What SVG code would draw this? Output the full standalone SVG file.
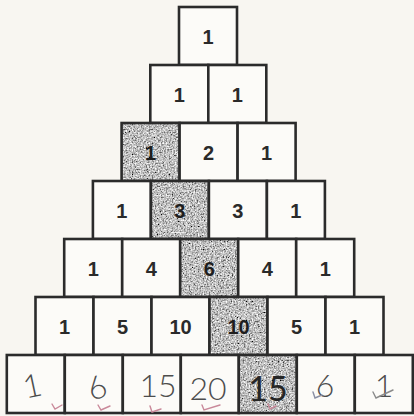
<svg xmlns="http://www.w3.org/2000/svg" width="414" height="416" viewBox="0 0 414 416">
<defs>
<filter id="grain" x="0" y="0" width="100%" height="100%">
<feTurbulence type="fractalNoise" baseFrequency="0.65" numOctaves="3" seed="4" result="n"/>
<feColorMatrix in="n" type="matrix" values="1.6 0 0 0 -0.28  1.6 0 0 0 -0.28  1.6 0 0 0 -0.28  0 0 0 0 1" result="g"/>
<feComposite in="g" in2="SourceGraphic" operator="in"/>
</filter>
<style>
.cell{fill:#fcfbf8;stroke:#2b2b2b;stroke-width:2.6}
.shade{fill:#999;filter:url(#grain)}
.edge{fill:none;stroke:#2b2b2b;stroke-width:2.6}
.num{font-family:"Liberation Sans",Arial,sans-serif;font-weight:bold;font-size:20px;fill:#2a2a2a;text-anchor:middle}
.dark{fill:#1e1e1e}
.hand{font-family:"Lato","Open Sans",sans-serif;font-weight:300;font-size:32px;fill:#4d4d4d;text-anchor:middle}
.chk{fill:none;stroke:#c9899a;stroke-width:1.4;stroke-linecap:round}
</style>
</defs>
<rect width="414" height="416" fill="#f8f6f1"/>

<g id="row0">
<g id="n0_0"><rect class="cell" x="179" y="7" width="58" height="58"/><text class="num" x="208" y="44">1</text></g>
</g>
<g id="row1">
<g id="n1_0"><rect class="cell" x="150.3" y="65" width="58" height="58"/><text class="num" x="179.3" y="102">1</text></g>
<g id="n1_1"><rect class="cell" x="208.3" y="65" width="58" height="58"/><text class="num" x="237.3" y="102">1</text></g>
</g>
<g id="row2">
<g id="n2_0"><rect class="shade" x="121.6" y="123" width="58" height="58"/><rect class="edge" x="121.6" y="123" width="58" height="58"/><text class="num dark" x="150.6" y="160">1</text></g>
<g id="n2_1"><rect class="cell" x="179.6" y="123" width="58" height="58"/><text class="num" x="208.6" y="160">2</text></g>
<g id="n2_2"><rect class="cell" x="237.6" y="123" width="58" height="58"/><text class="num" x="266.6" y="160">1</text></g>
</g>
<g id="row3">
<g id="n3_0"><rect class="cell" x="92.9" y="181" width="58" height="58"/><text class="num" x="121.9" y="218">1</text></g>
<g id="n3_1"><rect class="shade" x="150.9" y="181" width="58" height="58"/><rect class="edge" x="150.9" y="181" width="58" height="58"/><text class="num dark" x="179.9" y="218">3</text></g>
<g id="n3_2"><rect class="cell" x="208.9" y="181" width="58" height="58"/><text class="num" x="237.9" y="218">3</text></g>
<g id="n3_3"><rect class="cell" x="266.9" y="181" width="58" height="58"/><text class="num" x="295.9" y="218">1</text></g>
</g>
<g id="row4">
<g id="n4_0"><rect class="cell" x="64.2" y="239" width="58" height="58"/><text class="num" x="93.2" y="276">1</text></g>
<g id="n4_1"><rect class="cell" x="122.2" y="239" width="58" height="58"/><text class="num" x="151.2" y="276">4</text></g>
<g id="n4_2"><rect class="shade" x="180.2" y="239" width="58" height="58"/><rect class="edge" x="180.2" y="239" width="58" height="58"/><text class="num dark" x="209.2" y="276">6</text></g>
<g id="n4_3"><rect class="cell" x="238.2" y="239" width="58" height="58"/><text class="num" x="267.2" y="276">4</text></g>
<g id="n4_4"><rect class="cell" x="296.2" y="239" width="58" height="58"/><text class="num" x="325.2" y="276">1</text></g>
</g>
<g id="row5">
<g id="n5_0"><rect class="cell" x="35.5" y="297" width="58" height="58"/><text class="num" x="64.5" y="334">1</text></g>
<g id="n5_1"><rect class="cell" x="93.5" y="297" width="58" height="58"/><text class="num" x="122.5" y="334">5</text></g>
<g id="n5_2"><rect class="cell" x="151.5" y="297" width="58" height="58"/><text class="num" x="180.5" y="334">10</text></g>
<g id="n5_3"><rect class="shade" x="209.5" y="297" width="58" height="58"/><rect class="edge" x="209.5" y="297" width="58" height="58"/><text class="num dark" x="238.5" y="334">10</text></g>
<g id="n5_4"><rect class="cell" x="267.5" y="297" width="58" height="58"/><text class="num" x="296.5" y="334">5</text></g>
<g id="n5_5"><rect class="cell" x="325.5" y="297" width="58" height="58"/><text class="num" x="354.5" y="334">1</text></g>
</g>
<g id="row6">
<g id="n6_0"><rect class="cell" x="6.8" y="355" width="58" height="58"/><text class="hand" x="32" y="397" transform="rotate(-12 32 384)">1</text><path class="chk" d="M52 404 L55 409 L62 405"/></g>
<g id="n6_1"><rect class="cell" x="64.8" y="355" width="58" height="58"/><text class="hand" x="96" y="399" transform="rotate(-20 96 385)">6</text><path class="chk" d="M98 405 L101 410 L110 406"/></g>
<g id="n6_2"><rect class="cell" x="122.8" y="355" width="58" height="58"/><text class="hand" x="158" y="397">15</text><path class="chk" d="M150 406 L152 412 L161 409"/></g>
<g id="n6_3"><rect class="cell" x="180.8" y="355" width="58" height="58"/><text class="hand" x="208" y="400">20</text><path class="chk" d="M202 405 L204 410 L220 405"/></g>
<g id="n6_4"><rect class="shade" x="238.8" y="355" width="58" height="58"/><rect class="edge" x="238.8" y="355" width="58" height="58"/><text class="hand" x="268" y="401" style="fill:#262626;font-weight:400;font-size:34px">15</text><path class="chk" d="M268 404 L270 409 L276 406"/></g>
<g id="n6_5"><rect class="cell" x="296.8" y="355" width="58" height="58"/><text class="hand" x="325" y="397">6</text><path class="chk" d="M313 392 L315 398 L322 395" style="stroke:#8a8fa3"/></g>
<g id="n6_6"><rect class="cell" x="354.8" y="355" width="58" height="58"/><text class="hand" x="384" y="397">1</text><path class="chk" d="M373 392 L376 398 L393 390" style="stroke:#8a8a8a"/></g>
</g>
<g id="connectors"></g>
</svg>
